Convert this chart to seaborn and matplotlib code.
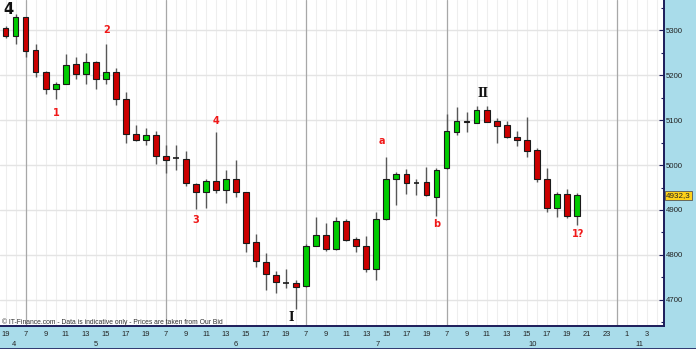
import numpy as np
import pandas as pd
import matplotlib
matplotlib.use("Agg")
import matplotlib.pyplot as plt
import matplotlib.transforms as mtrans
import seaborn as sns

# ---- data (hourly candles) ----
opens = [5305, 5287, 5328, 5256, 5207, 5170, 5180, 5224, 5203, 5230, 5191, 5207, 5147, 5069, 5056, 5066,
         5021, 5015, 5014, 4958, 4940, 4965, 4944, 4970, 4940, 4829, 4784, 4756, 4738, 4738,
         4730, 4820, 4844, 4813, 4876, 4835, 4819, 4768, 4879, 4970, 4979, 4959, 4962, 4928,
         4993, 5073, 5097, 5094, 5122, 5098, 5089, 5062, 5055, 5033, 4969, 4904, 4936, 4887]
highs = [5310, 5336, 5330, 5269, 5209, 5185, 5247, 5240, 5248, 5231, 5269, 5215, 5162, 5089, 5083, 5076,
         5044, 5045, 5032, 4960, 4970, 5074, 4990, 5011, 4941, 4846, 4804, 4765, 4769, 4744,
         4824, 4885, 4872, 4884, 4879, 4841, 4842, 4896, 5018, 4985, 4991, 4970, 4996, 4993,
         5113, 5130, 5117, 5131, 5131, 5105, 5098, 5076, 5107, 5037, 4993, 4941, 4946, 4938]
lows = [5282, 5270, 5239, 5196, 5158, 5146, 5179, 5191, 5179, 5169, 5180, 5133, 5048, 5053, 5044, 5002,
        4983, 4990, 4953, 4903, 4905, 4937, 4915, 4928, 4807, 4774, 4722, 4715, 4726, 4679,
        4729, 4819, 4809, 4812, 4832, 4807, 4763, 4744, 4878, 4910, 4936, 4933, 4932, 4887,
        4992, 5067, 5074, 5093, 5095, 5050, 5061, 5043, 5017, 4962, 4895, 4884, 4882, 4867]
closes = [5287, 5328, 5254, 5207, 5168, 5181, 5223, 5203, 5230, 5191, 5207, 5146, 5070, 5056, 5066, 5020,
          5012, 5015, 4960, 4940, 4965, 4944, 4970, 4940, 4827, 4787, 4757, 4740, 4738, 4728,
          4819, 4844, 4813, 4876, 4834, 4819, 4769, 4880, 4970, 4981, 4959, 4959, 4933, 4989,
          5076, 5098, 5095, 5122, 5096, 5087, 5063, 5055, 5031, 4969, 4904, 4936, 4887, 4932.3]

# hour labels along the time axis (slot index -> label)
hour_tick_slots = [0, 2, 4, 6, 8, 10, 12, 14, 16, 18, 20, 22, 24, 26, 28, 30, 32, 34, 36, 38, 40, 42,
                   44, 46, 48, 50, 52, 54, 56, 58, 60, 62, 64]
hour_tick_labels = ["19", "7", "9", "11", "13", "15", "17", "19", "7", "9", "11", "13", "15", "17", "19",
                    "7", "9", "11", "13", "15", "17", "19", "7", "9", "11", "13", "15", "17", "19",
                    "21", "23", "1", "3"]
day_labels = ["4", "5", "6", "7", "10", "11"]
day_label_slots = [0.8, 9.0, 23.0, 37.1, 52.6, 63.2]
day_start_slots = [2, 16, 30, 44, 61]

wave_labels = ["1", "2", "3", "4", "a", "b", "1?"]
wave_x = [5.05, 10.1, 19.0, 21.0, 37.55, 43.05, 57.1]
wave_y = [5116, 5300, 4878, 5098, 5053, 4869, 4847]
roman_labels = ["I", "II"]
roman_x = [28.5, 47.65]
roman_y = [4662, 5160]

last_price = 4932.3

df = pd.DataFrame({"slot": np.arange(len(opens)), "open": opens, "high": highs,
                   "low": lows, "close": closes})

# ---- style ----
sns.set_theme(style="white")
plt.rcParams["font.family"] = ["Liberation Sans", "DejaVu Sans"]

W, H = 696, 349
band_blue = "#A9DCEA"
navy = "#1C1C5A"
fig = plt.figure(figsize=(W / 100, H / 100), dpi=100, facecolor=band_blue)
ax = fig.add_axes([0, 23 / H, 664 / W, 326 / H])
ax.set_facecolor("white")

# grid: hourly vertical lines, darker day separators, horizontal per 100
for s in range(-1, 67):
    ax.axvline(s, color="#eeeeee", lw=0.8, zorder=0)
for s in day_start_slots:
    ax.axvline(s, color="#a8a8a8", lw=0.9, zorder=0.5)
for v in range(4700, 5301, 100):
    ax.axhline(v, color="#e4e4e4", lw=1.0, zorder=0)

# wicks
ax.vlines(df["slot"], df["low"], df["high"], color="#585858", lw=1.0, zorder=2)

# bodies
up = df["close"] > df["open"]
down = df["close"] < df["open"]
doji = df["close"] == df["open"]
bw = 0.58
ax.bar(df.loc[up, "slot"], (df["close"] - df["open"])[up], bottom=df.loc[up, "open"], width=bw,
       color="#00CC00", edgecolor="#1a1a1a", lw=0.8, zorder=3)
ax.bar(df.loc[down, "slot"], (df["open"] - df["close"])[down], bottom=df.loc[down, "close"], width=bw,
       color="#CC0000", edgecolor="#1a1a1a", lw=0.8, zorder=3)
ax.hlines(df.loc[doji, "close"], df.loc[doji, "slot"] - bw / 2, df.loc[doji, "slot"] + bw / 2,
          color="#1a1a1a", lw=1.2, zorder=3)

# annotations
for t, x, y in zip(wave_labels, wave_x, wave_y):
    ax.text(x, y, t, color="#F01818", fontsize=7, fontweight="bold", ha="center", va="center",
            family=["DejaVu Sans"], zorder=4)
for t, x, y in zip(roman_labels, roman_x, roman_y):
    ax.text(x, y, t, color="#111111", fontsize=8.5, fontweight="bold", ha="center", va="center",
            family=["DejaVu Serif"], zorder=4)

# axes limits
ax.set_xlim(-0.55, 65.7)
ax.set_ylim(4642.2, 5366.7)

# spines
for side in ["top", "left"]:
    ax.spines[side].set_visible(False)
ax.spines["right"].set_color(navy)
ax.spines["right"].set_linewidth(1.4)
ax.spines["bottom"].set_color(navy)
ax.spines["bottom"].set_linewidth(1.4)

# y axis on right
ax.yaxis.tick_right()
ax.set_yticks(range(4700, 5301, 100))
ax.set_yticks(range(4650, 5351, 100), minor=True)
ax.tick_params(axis="y", which="major", direction="in", length=3.5, width=0.8, color=navy,
               labelsize=5.6, labelcolor="#222222", pad=1.5, right=True, left=False)
ax.tick_params(axis="y", which="minor", direction="in", length=2.5, width=0.8, color=navy,
               right=True, left=False)

# x axis
ax.set_xticks(hour_tick_slots)
ax.set_xticklabels(hour_tick_labels)
ax.set_xticks(range(0, 66), minor=True)
ax.tick_params(axis="x", which="major", direction="out", length=2, width=0.6, color="#556",
               labelsize=5.4, labelcolor="#222222", pad=1.5)
ax.tick_params(axis="x", which="minor", direction="out", length=1.2, width=0.5, color="#778")

# day labels (second row)
tr = mtrans.blended_transform_factory(ax.transData, fig.transFigure)
for t, x in zip(day_labels, day_label_slots):
    ax.text(x, 1 - 344 / H, t, transform=tr, fontsize=5.4, color="#222222",
            ha="center", va="center", clip_on=False)

# big chart number
fig.text(3 / W, 1 - 10 / H, "4", fontsize=10.5, fontweight="bold", color="#111111",
         ha="left", va="center", family=["DejaVu Sans"])

# watermark
fig.text(2 / W, 1 - 322 / H,
         "\u00a9 IT-Finance.com - Data is indicative only - Prices are taken from Our Bid",
         fontsize=4.9, color="#333333", ha="left", va="center")

# last price tag
trp = mtrans.blended_transform_factory(ax.transAxes, ax.transData)
ax.text(1.0 + 2.0 / 664, last_price, "4932,3", transform=trp, fontsize=5.8, color="#222222",
        ha="left", va="center", clip_on=False, zorder=6,
        bbox=dict(boxstyle="square,pad=0.15", facecolor="#FFD21A", edgecolor="#555555", lw=0.6))

# bottom frame line
fig.add_artist(plt.Line2D([0, 1], [0.5 / H, 0.5 / H], transform=fig.transFigure, color=navy, lw=1.2))

fig.savefig("out.png", dpi=100, facecolor=fig.get_facecolor())
